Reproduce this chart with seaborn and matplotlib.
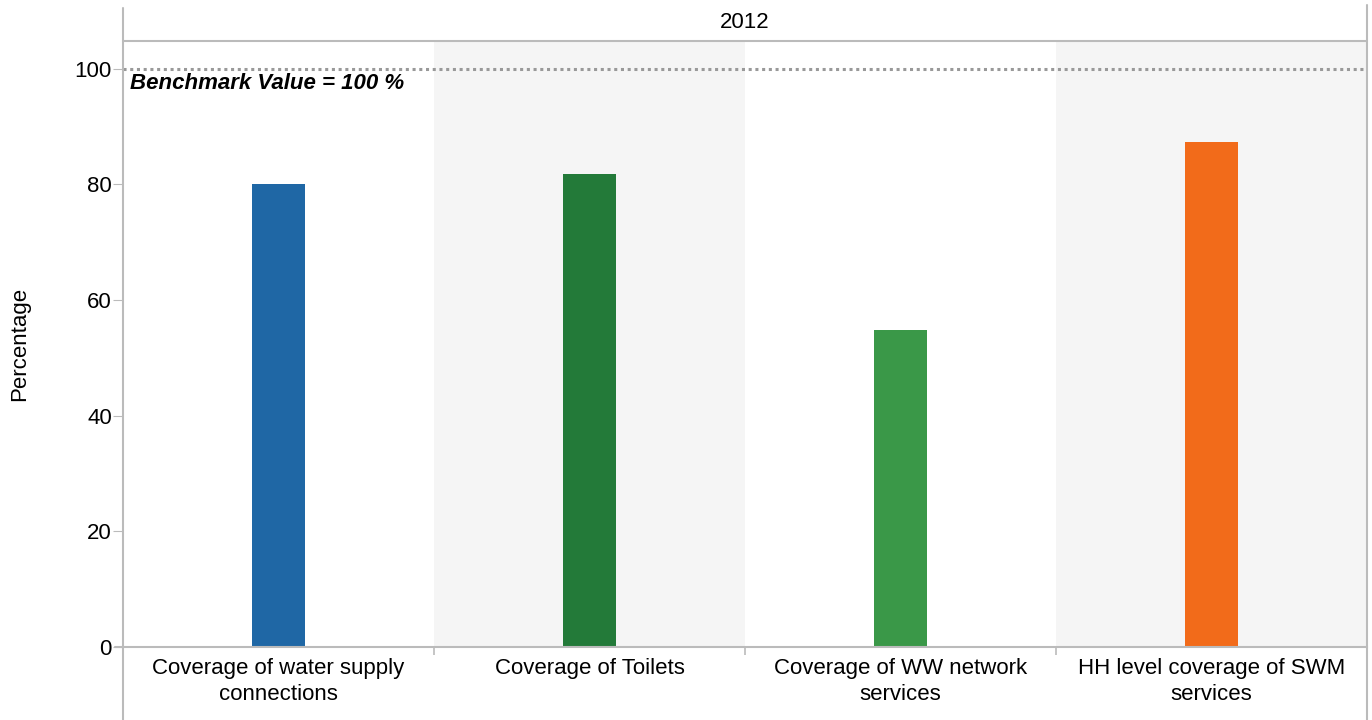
import matplotlib
matplotlib.use("Agg")
import matplotlib.pyplot as plt
from matplotlib.lines import Line2D
import seaborn as sns
import pandas as pd

# data
categories = [
    "Coverage of water supply\nconnections",
    "Coverage of Toilets",
    "Coverage of WW network\nservices",
    "HH level coverage of SWM\nservices",
]
values = [80.0, 81.8, 54.8, 87.4]
colors = ["#1f67a5", "#237a39", "#3a9848", "#f26b1a"]
year = "2012"
benchmark = 100
y_ticks = [0, 20, 40, 60, 80, 100]

sns.set_style("white")
plt.rcParams["font.family"] = ["Liberation Sans", "DejaVu Sans"]
plt.rcParams["text.color"] = "black"
plt.rcParams["xtick.color"] = "black"
plt.rcParams["ytick.color"] = "black"

W, H = 1372, 720
fig = plt.figure(figsize=(W / 100, H / 100), dpi=100)
left, right, top, bottom = 123, 1367, 41, 647
ax = fig.add_axes([left / W, 1 - bottom / H, (right - left) / W, (bottom - top) / H])

df = pd.DataFrame({"cat": categories, "val": values})
sns.barplot(data=df, x="cat", y="val", hue="cat", palette=colors,
            width=0.17, legend=False, ax=ax, saturation=1, linewidth=0)

# alternating bands
for i in range(len(categories)):
    if i % 2 == 1:
        ax.axvspan(i - 0.5, i + 0.5, color="#f5f5f5", zorder=0, lw=0)

ax.set_xlim(-0.5, len(categories) - 0.5)
ax.set_ylim(0, 104.8)
ax.set_yticks(y_ticks)
ax.set_xlabel("")
ax.set_ylabel("")
ax.tick_params(axis="y", left=True, length=7, color="#bbbbbb", labelsize=16, pad=1,
               labelcolor="black")
ax.set_xticks(range(len(categories)), minor=False)
ax.set_xticks([i + 0.5 for i in range(len(categories) - 1)], minor=True)
ax.tick_params(axis="x", which="major", length=0, labelsize=16, pad=8, labelcolor="black")
ax.tick_params(axis="x", which="minor", bottom=True, length=6, color="#bbbbbb", width=1.2)
for lab in ax.get_xticklabels():
    lab.set_linespacing(1.3)

for s in ax.spines.values():
    s.set_visible(False)
ax.spines["bottom"].set_visible(True)
ax.spines["bottom"].set_color("#bbbbbb")
ax.spines["bottom"].set_linewidth(1.5)

# benchmark line
ax.axhline(benchmark, color="#999999", ls=(0, (1, 1.2)), lw=2.2, zorder=3)
ax.text(0.006, benchmark - 2.6, "Benchmark Value = 100 %", transform=ax.get_yaxis_transform(),
        fontsize=16, fontweight="bold", fontstyle="italic", va="center", ha="left")

# frame lines in figure pixels
def fline(x0, y0, x1, y1):
    fig.add_artist(Line2D([x0 / W, x1 / W], [1 - y0 / H, 1 - y1 / H],
                          color="#bbbbbb", lw=1.5, transform=fig.transFigure))

fline(left, 8, left, H)
fline(right, 5, right, H)
fline(left, top, right, top)
fline(115, bottom, left, bottom)

fig.text((left + right) / 2 / W, 1 - 22 / H, year, ha="center", va="center", fontsize=16)
fig.text(20 / W, 1 - 344 / H, "Percentage", rotation=90, ha="center", va="center", fontsize=16)

fig.savefig("out.png", dpi=100)
